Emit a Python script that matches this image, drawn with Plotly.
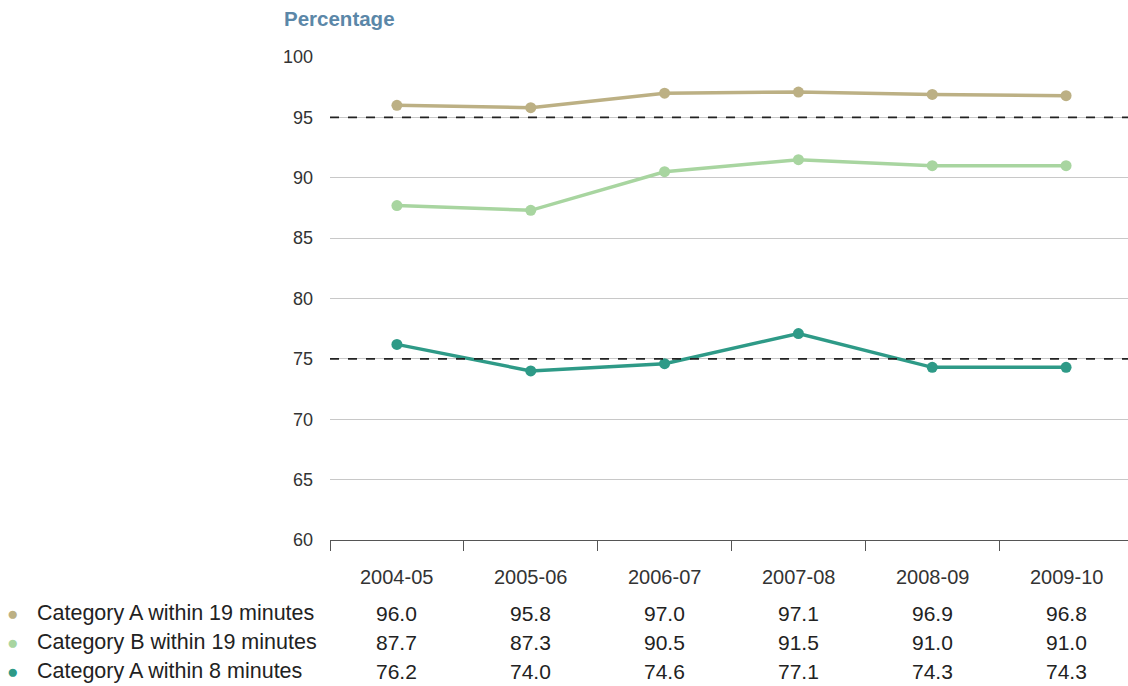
import plotly.graph_objects as go

categories = ["2004-05", "2005-06", "2006-07", "2007-08", "2008-09", "2009-10"]
series_names = ["Category A within 19 minutes", "Category B within 19 minutes", "Category A within 8 minutes"]
cat_a_19 = [96.0, 95.8, 97.0, 97.1, 96.9, 96.8]
cat_b_19 = [87.7, 87.3, 90.5, 91.5, 91.0, 91.0]
cat_a_8 = [76.2, 74.0, 74.6, 77.1, 74.3, 74.3]
targets = [95, 75]
y_ticks = [60, 65, 70, 75, 80, 85, 90, 95, 100]

series_values = [cat_a_19, cat_b_19, cat_a_8]
colors = ["#bcb084", "#a8d5a0", "#2e9a87"]
FONT = "Liberation Sans, Arial, sans-serif"
FIG_W = 1133
PLOT_W = FIG_W - 330

xs = list(range(len(categories)))
fig = go.Figure()
for name, vals, col in zip(series_names, series_values, colors):
    fig.add_trace(go.Scatter(x=xs, y=vals, mode="lines+markers", name=name,
                             line=dict(color=col, width=3.5),
                             marker=dict(color=col, size=11),
                             showlegend=False, hoverinfo="skip"))

shapes = []
for t in targets:
    shapes.append(dict(type="line", xref="x", yref="y", x0=-0.5, x1=5.5, y0=t, y1=t,
                       line=dict(color="#222222", width=1.6, dash="dash"), layer="above"))

annotations = []
annotations.append(dict(text="<b>Percentage</b>", xref="paper", yref="paper", x=-48/PLOT_W, y=1.0,
                        xanchor="left", yanchor="middle", yshift=39, showarrow=False,
                        font=dict(family=FONT, size=20.5, color="#5b87a8")))
for i, c in enumerate(categories):
    annotations.append(dict(text=c, xref="x", yref="paper", x=i, y=0, yshift=-37,
                            xanchor="center", yanchor="middle", showarrow=False,
                            font=dict(family=FONT, size=20, color="#333333")))
row_offsets = [-73, -102, -131]
for name, vals, col, off in zip(series_names, series_values, colors, row_offsets):
    annotations.append(dict(text="●", xref="paper", yref="paper", x=-330/PLOT_W, y=0, yshift=off,
                            xanchor="left", yanchor="middle", xshift=5, showarrow=False,
                            font=dict(family=FONT, size=19, color=col)))
    annotations.append(dict(text=name, xref="paper", yref="paper", x=-330/PLOT_W, y=0, yshift=off,
                            xanchor="left", yanchor="middle", xshift=35, showarrow=False,
                            font=dict(family=FONT, size=21.5, color="#222222")))
    for i, v in enumerate(vals):
        annotations.append(dict(text=f"{v:.1f}", xref="x", yref="paper", x=i, y=0, yshift=off,
                                xanchor="center", yanchor="middle", showarrow=False,
                                font=dict(family=FONT, size=21, color="#222222")))

fig.update_layout(
    width=FIG_W, height=686,
    margin=dict(l=330, r=0, t=57, b=146),
    paper_bgcolor="white", plot_bgcolor="white",
    font=dict(family=FONT, size=17, color="#333333"),
    xaxis=dict(range=[-0.5, 5.5], tickvals=[i - 0.5 for i in range(7)], ticktext=[""] * 7,
               ticks="outside", ticklen=10, tickcolor="#555555", tickwidth=1,
               showline=True, linecolor="#555555", linewidth=1, showgrid=False,
               zeroline=False, fixedrange=True),
    yaxis=dict(range=[60, 100], tickvals=y_ticks, showgrid=True, gridcolor="#c8c8c8",
               gridwidth=1, zeroline=False, showline=False, ticks="", ticklabelstandoff=16,
               tickfont=dict(family=FONT, size=18, color="#333333"), fixedrange=True),
    shapes=shapes, annotations=annotations,
)

fig.write_html("out.html", config={"displayModeBar": False},
               post_script="document.body.style.margin='0';document.body.style.overflow='hidden';")
